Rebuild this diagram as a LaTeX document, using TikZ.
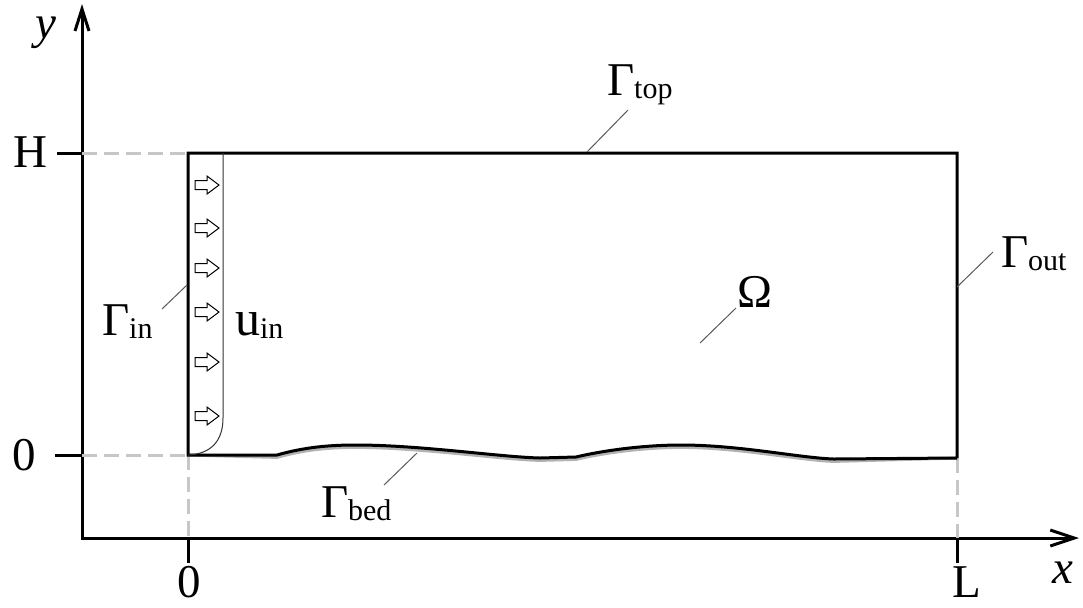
\documentclass[tikz,border=0pt]{standalone}
\usepackage{fontspec}
\setmainfont{Liberation Serif}
\usetikzlibrary{arrows.meta}
\newcommand\sbs[1]{\raisebox{-1.5pt}{\fontsize{15}{18}\selectfont #1}}
\begin{document}
\begin{tikzpicture}[x=0.5pt,y=-0.5pt,
  axis/.style={line width=1.5pt, line join=miter},
  frame/.style={line width=1.5pt, line join=miter},
  guide/.style={line width=1.5pt, black!22, dash pattern=on 7.5pt off 3.5pt},
  tick/.style={line width=1.5pt},
  leader/.style={line width=0.5pt, black!65},
  lbl/.style={inner sep=0pt, outer sep=0pt, anchor=base west, font=\fontsize{23.5}{27}\selectfont},
  profile/.style={line width=0.5pt, black!80},
  inarrow/.style={line width=0.5pt, draw=black, fill=white, line join=miter}]
\useasboundingbox (0,0) rectangle (1083,607);

% axes
\coordinate (O) at (82,538);
\coordinate (ytip) at (82,4);
\coordinate (xtip) at (1079,538);
\draw[axis, {Straight Barb[length=11pt,width=7pt]}-{Straight Barb[length=12pt,width=8pt]}] (ytip) -- (O) -- (xtip);

% domain corners
\coordinate (A) at (188,455);
\coordinate (B) at (188,153);
\coordinate (C) at (957,153);
\coordinate (D) at (957,458);

% guides
\draw[guide] (82,153) -- (B);
\draw[guide] (82,455) -- (A);
\draw[guide] (A) -- (188,538);
\draw[guide] (D) -- (957,538);

% ticks
\draw[tick] (57,153) -- (82,153);
\draw[tick] (55,455) -- (82,455);
\draw[tick] (188,538) -- (188,563);
\draw[tick] (957,538) -- (957,563);

% bed shadow
\begin{scope}[yshift=-1.2pt]
\draw[line width=1.5pt, black!30] (A) -- (277,455) .. controls (305,447) and (330,445) .. (356,445)
  .. controls (420,445) and (500,457) .. (540,458) -- (576,457)
  .. controls (610,449) and (650,445) .. (681,445)
  .. controls (740,445) and (800,458) .. (834,459) -- (D);
\end{scope}

% domain frame with bed
\draw[frame] (D) -- (C) -- (B) -- (A) -- (277,455) .. controls (305,447) and (330,445) .. (356,445)
  .. controls (420,445) and (500,457) .. (540,458) -- (576,457)
  .. controls (610,449) and (650,445) .. (681,445)
  .. controls (740,445) and (800,458) .. (834,459) -- (D);

% inlet profile
\draw[profile] (223,153) -- (223,418) .. controls (223,442) and (210,454) .. (A);
\foreach \c in {185,228,268,312,362,416}{
  \draw[inarrow] (195,\c-4.5) -- (207,\c-4.5) -- (207,\c-9) -- (219,\c) -- (207,\c+9) -- (207,\c+4.5) -- (195,\c+4.5) -- cycle;
}

% labels
\node[lbl] (ylab) at (35,38) {\itshape y};
\node[lbl] (xlab) at (1052,583) {\itshape x};
\node[lbl] (Hlab) at (13,167) {H};
\node[lbl] (zy) at (12,470) {0};
\node[lbl] (zx) at (177,597) {0};
\node[lbl] (Llab) at (952,597) {L};
\node[lbl] (gtop) at (607,95) {Γ\sbs{top}};
\node[lbl] (gout) at (1001,267) {Γ\sbs{out}};
\node[lbl] (gbed) at (321,517) {Γ\sbs{bed}};
\node[lbl] (gin) at (102,335) {Γ\sbs{in}};
\node[lbl] (om) at (737,307) {Ω};
\node[lbl] (uin) at (235,335) {{\fontsize{25}{27}\selectfont u}\sbs{in}};

% leaders
\coordinate (t1) at (587,152); \coordinate (t2) at (628,110);
\coordinate (o1) at (957,287); \coordinate (o2) at (993,252);
\coordinate (b1) at (417,453); \coordinate (b2) at (384,485);
\coordinate (w1) at (736,308); \coordinate (w2) at (700,343);
\coordinate (i1) at (187,285); \coordinate (i2) at (162,309);
\draw[leader] (t1) -- (t2);
\draw[leader] (o1) -- (o2);
\draw[leader] (b1) -- (b2);
\draw[leader] (w1) -- (w2);
\draw[leader] (i1) -- (i2);
\end{tikzpicture}
\end{document}
